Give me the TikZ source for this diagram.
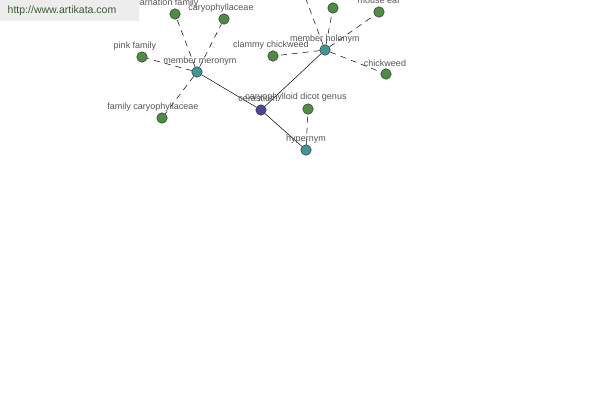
\documentclass[tikz,border=0pt]{standalone}
\usepackage{fontspec}
\setmainfont{Liberation Sans}
\definecolor{leafgreen}{RGB}{78,140,68}
\definecolor{relteal}{RGB}{64,150,150}
\definecolor{coreblue}{RGB}{72,72,150}
\definecolor{lblgray}{RGB}{85,85,85}
\definecolor{wmgreen}{RGB}{60,90,50}
\begin{document}
\begin{tikzpicture}[x=1pt,y=-1pt,
  dot/.style={circle,draw=black!80,line width=0.5pt,minimum size=10.5pt,inner sep=0pt},
  leaf/.style={dot,fill=leafgreen},
  rel/.style={dot,fill=relteal},
  core/.style={dot,fill=coreblue},
  lbl/.style={text=lblgray,font=\fontsize{9}{10}\selectfont,inner sep=0pt},
  solidedge/.style={draw=black,line width=0.5pt},
  dashedge/.style={draw=black,line width=0.5pt,dash pattern=on 6pt off 5pt}]
\useasboundingbox (0,0) rectangle (600,400);
% nodes
\node[core] (c) at (261,110) {};
\node[rel] (mm) at (197,72) {};
\node[rel] (mh) at (325,50) {};
\node[rel] (hy) at (306,150) {};
\node[leaf] (cf) at (175,14) {};
\node[leaf] (ca) at (224,19) {};
\node[leaf] (pf) at (142,57) {};
\node[leaf] (fc) at (162,118) {};
\node[leaf] (cc) at (273,56) {};
\node[leaf] (u1) at (333,8) {};
\node[leaf] (me) at (379,12) {};
\node[leaf] (cw) at (386,74) {};
\node[leaf] (cd) at (308,109) {};
\coordinate (off) at (304,-6);
% edges
\path[solidedge] (c) -- (mm);
\path[solidedge] (c) -- (mh);
\path[solidedge] (c) -- (hy);
\path[dashedge] (mm) -- (cf);
\path[dashedge] (mm) -- (ca);
\path[dashedge] (mm) -- (pf);
\path[dashedge] (mm) -- (fc);
\path[dashedge] (mh) -- (cc);
\path[dashedge] (mh) -- (u1);
\path[dashedge] (mh) -- (me);
\path[dashedge] (mh) -- (cw);
\path[dashedge] (mh) -- (off);
\path[dashedge] (hy) -- (cd);
% labels
\node[lbl] (lmm) at (200,61) {member meronym};
\node[lbl] (lmh) at (325,39) {member holonym};
\node[lbl] (lhy) at (306,139) {hypernym};
\node[lbl] (lc) at (258,98) {cerastium};
\node[lbl] (lcd) at (296,97) {caryophylloid dicot genus};
\node[lbl] (lcf) at (167,3) {carnation family};
\node[lbl] (lca) at (221,8) {caryophyllaceae};
\node[lbl] (lpf) at (135,46) {pink family};
\node[lbl] (lfc) at (153,107) {family caryophyllaceae};
\node[lbl] (lcc) at (271,45) {clammy chickweed};
\node[lbl] (lme) at (379,1) {mouse ear};
\node[lbl] (lcw) at (385,63) {chickweed};
% watermark box
\fill[black!7] (0,0) rectangle (139,21);
\node[text=wmgreen,font=\fontsize{10.5}{12}\selectfont,inner sep=0pt] (wm) at (62,11) {http://www.artikata.com};
\end{tikzpicture}
\end{document}
